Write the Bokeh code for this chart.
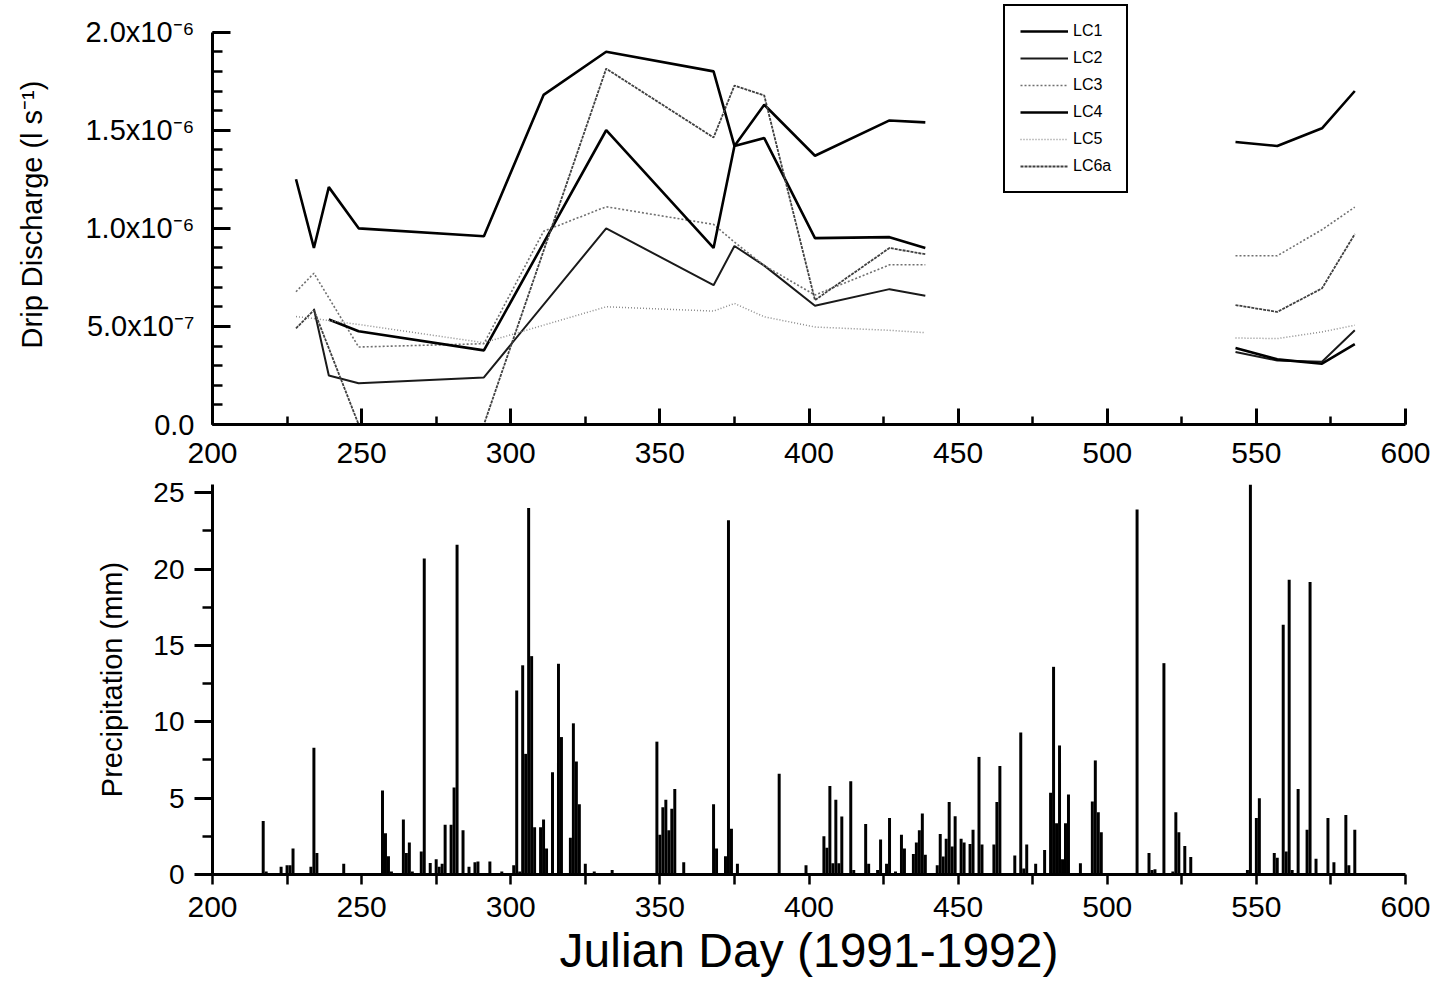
from bokeh.plotting import figure
from bokeh.layouts import column
from bokeh.models import SingleIntervalTicker, Range1d, Legend, LegendItem
from bokeh.embed import file_html
from bokeh.resources import INLINE

nan = float("nan")

# ---------------- Drip discharge (l s^-1), NaN marks the data gap ----------------
lc1_days = [228, 234, 239, 249, 291, 311, 332, 368, 375, 385, 402, 427, 439, nan, 543, 557, 572, 583]
lc1_vals = [1.25e-6, 0.90e-6, 1.21e-6, 1.00e-6, 0.96e-6, 1.68e-6, 1.90e-6, 1.80e-6, 1.42e-6, 1.63e-6,
            1.37e-6, 1.55e-6, 1.54e-6, nan, 1.44e-6, 1.42e-6, 1.51e-6, 1.70e-6]

lc2_days = [234, 239, 249, 291, 332, 368, 375, 385, 402, 427, 439, nan, 543, 557, 572, 583]
lc2_vals = [0.59e-6, 0.25e-6, 0.21e-6, 0.24e-6, 1.00e-6, 0.71e-6, 0.91e-6, 0.81e-6, 0.605e-6, 0.69e-6,
            0.656e-6, nan, 0.37e-6, 0.326e-6, 0.32e-6, 0.48e-6]

lc3_days = [228, 234, 249, 291, 311, 332, 368, 375, 385, 402, 427, 439, nan, 543, 557, 572, 583]
lc3_vals = [0.677e-6, 0.771e-6, 0.395e-6, 0.412e-6, 0.985e-6, 1.11e-6, 1.02e-6, 0.93e-6, 0.81e-6, 0.66e-6,
            0.814e-6, 0.814e-6, nan, 0.86e-6, 0.86e-6, 0.993e-6, 1.108e-6]

lc4_days = [239, 249, 291, 332, 368, 375, 385, 402, 427, 439, nan, 543, 557, 572, 583]
lc4_vals = [0.535e-6, 0.475e-6, 0.378e-6, 1.50e-6, 0.90e-6, 1.42e-6, 1.46e-6, 0.95e-6, 0.955e-6, 0.90e-6,
            nan, 0.39e-6, 0.332e-6, 0.31e-6, 0.41e-6]

lc5_days = [228, 234, 249, 291, 332, 368, 375, 385, 402, 427, 439, nan, 543, 557, 572, 583]
lc5_vals = [0.55e-6, 0.54e-6, 0.51e-6, 0.417e-6, 0.60e-6, 0.578e-6, 0.617e-6, 0.549e-6, 0.497e-6, 0.48e-6,
            0.468e-6, nan, 0.441e-6, 0.438e-6, 0.472e-6, 0.506e-6]

lc6a_days = [228, 234, 249, 291, 332, 368, 375, 385, 402, 427, 439, nan, 543, 557, 572, 583]
lc6a_vals = [0.49e-6, 0.583e-6, 0.0, 0.0, 1.814e-6, 1.463e-6, 1.728e-6, 1.677e-6, 0.634e-6, 0.90e-6,
             0.868e-6, nan, 0.609e-6, 0.574e-6, 0.694e-6, 0.971e-6]

series_names = ["LC1", "LC2", "LC3", "LC4", "LC5", "LC6a"]

drip_ticks = [0.0, 5e-7, 1e-6, 1.5e-6, 2e-6]
drip_tick_labels = ["0.0", "5.0x10\u207b\u2077", "1.0x10\u207b\u2076", "1.5x10\u207b\u2076", "2.0x10\u207b\u2076"]

# ---------------- Daily precipitation (mm) ----------------
precip_days = [217, 218, 223, 225, 226, 227, 233, 234, 235, 237, 244,
               257, 258, 259, 260, 264, 265, 266, 267, 270, 271, 273, 275, 276, 277, 278, 280, 281, 282,
               284, 286, 288, 289, 293, 297, 301, 302, 303, 304, 305, 306, 307, 308, 310, 311, 312, 314,
               316, 317, 320, 321, 322, 323, 325, 328, 332, 334,
               349, 350, 351, 352, 353, 354, 355, 358, 368, 369, 372, 373, 374, 376, 390, 399,
               405, 406, 407, 408, 409, 410, 411, 414, 415, 419, 420, 423, 424, 426, 427, 429, 431, 432,
               435, 436, 437, 438, 439, 443, 444, 445, 446, 447, 448, 449, 451, 452, 454, 455, 457, 458,
               462, 463, 464, 469, 471, 472, 473, 476, 479, 481, 482, 483, 484, 485, 486, 487, 491,
               495, 496, 497, 498, 510, 514, 515, 516, 519, 522, 523, 524, 526, 528,
               547, 548, 550, 551, 556, 557, 559, 560, 561, 562, 564, 567, 568, 570, 574, 576, 580, 581, 583]
precip_mm = [3.5, 0.2, 0.5, 0.6, 0.6, 1.7, 0.5, 8.3, 1.4, 0.1, 0.7,
             5.5, 2.7, 1.2, 0.2, 3.6, 1.4, 2.1, 0.2, 1.5, 20.7, 0.75, 1.0, 0.5, 0.7, 3.25, 3.25, 5.7, 21.6,
             2.9, 0.5, 0.8, 0.85, 0.85, 0.2, 0.6, 12.05, 0.2, 13.7, 7.9, 24.0, 14.3, 3.1, 3.1, 3.6, 1.7, 6.7,
             13.8, 9.0, 2.4, 9.9, 7.4, 4.6, 0.7, 0.2, 0.1, 0.3,
             8.7, 2.6, 4.4, 4.9, 2.9, 4.3, 5.6, 0.8, 4.6, 1.7, 1.2, 23.2, 3.0, 0.7, 6.6, 0.6,
             2.5, 1.75, 5.8, 0.74, 4.9, 0.74, 3.8, 6.1, 0.3, 3.3, 0.7, 0.3, 2.3, 0.7, 3.7, 0.2, 2.6, 1.7,
             1.35, 2.1, 2.9, 4.0, 1.3, 0.6, 2.66, 1.18, 2.34, 4.74, 1.83, 3.82, 2.34, 2.1, 2.0, 2.93, 7.7, 1.96,
             1.96, 4.74, 7.1, 1.24, 9.3, 0.4, 1.96, 0.7, 1.6, 5.35, 13.6, 3.36, 8.45, 1.0, 3.36, 5.24, 0.74,
             4.78, 7.47, 4.08, 2.77, 23.9, 1.4, 0.3, 0.35, 13.84, 0.2, 4.08, 2.77, 1.86, 1.14,
             0.3, 26.0, 3.7, 5.0, 1.4, 1.1, 16.35, 1.5, 19.3, 0.3, 5.6, 2.93, 19.15, 1.03, 3.7, 0.8, 3.9, 0.6, 2.93]

FONT = "Liberation Sans"

# ---------------- Top figure: drip discharge ----------------
p1 = figure(frame_width=1193, frame_height=420, min_border_left=212, min_border_right=32,
            min_border_top=4, min_border_bottom=52,
            x_range=Range1d(200, 600), y_range=Range1d(0, 2.141e-6),
            output_backend="svg", toolbar_location=None)

r1 = p1.line(lc1_days, lc1_vals, line_color="black", line_width=2.6)
r2 = p1.line(lc2_days, lc2_vals, line_color="#1a1a1a", line_width=2.0)
r3 = p1.line(lc3_days, lc3_vals, line_color="#707070", line_width=1.6, line_dash="2 2")
r4 = p1.line(lc4_days, lc4_vals, line_color="black", line_width=2.6)
r5 = p1.line(lc5_days, lc5_vals, line_color="#8c8c8c", line_width=1.5, line_dash="1 2")
r6 = p1.line(lc6a_days, lc6a_vals, line_color="#404040", line_width=1.8, line_dash="3 1")

legend = Legend(items=[LegendItem(label=n, renderers=[r]) for n, r in zip(series_names, [r1, r2, r3, r4, r5, r6])],
                location=(791, 231))
legend.border_line_color = "black"
legend.border_line_alpha = 1.0
legend.border_line_width = 2.5
legend.background_fill_color = "white"
legend.background_fill_alpha = 1.0
legend.label_text_font = FONT
legend.label_text_font_size = "16px"
legend.label_text_color = "black"
legend.glyph_width = 48
legend.glyph_height = 20
legend.label_height = 20
legend.spacing = 7
legend.padding = 15
legend.margin = 0
legend.label_standoff = 5
p1.add_layout(legend)

# ---------------- Bottom figure: precipitation ----------------
p2 = figure(frame_width=1193, frame_height=390, min_border_left=212, min_border_right=32,
            min_border_top=8, min_border_bottom=20,
            x_range=Range1d(200, 600), y_range=Range1d(0, 25.54),
            output_backend="svg", toolbar_location=None)
p2.vbar(x=precip_days, top=precip_mm, width=1.0, bottom=0, fill_color="black", line_color=None)

for p in (p1, p2):
    p.outline_line_color = None
    p.xgrid.visible = False
    p.ygrid.visible = False
    p.background_fill_color = "white"
    p.border_fill_color = "white"
    for ax in (p.xaxis[0], p.yaxis[0]):
        ax.axis_line_width = 3
        ax.axis_line_color = "black"
        ax.major_tick_line_width = 3
        ax.minor_tick_line_width = 2.5
        ax.major_label_text_font = FONT
        ax.axis_label_text_font = FONT
        ax.axis_label_text_font_style = "normal"
        ax.major_label_text_color = "black"
        ax.axis_label_text_color = "black"
    p.xaxis[0].ticker = SingleIntervalTicker(interval=50, num_minor_ticks=2)
    p.xaxis[0].major_label_text_font_size = "30px"

# top axes
ax = p1.xaxis[0]
ax.major_tick_in = 16
ax.major_tick_out = 0
ax.minor_tick_in = 8
ax.minor_tick_out = 0
ax.major_label_standoff = 18

ay = p1.yaxis[0]
ay.bounds = (0, 2e-6)
ay.ticker = SingleIntervalTicker(interval=5e-7, num_minor_ticks=5)
ay.major_label_overrides = dict(zip(drip_ticks, drip_tick_labels))
ay.major_tick_in = 18
ay.major_tick_out = 0
ay.minor_tick_in = 10
ay.minor_tick_out = 0
ay.major_label_standoff = 18
ay.major_label_text_font_size = "29px"
ay.axis_label = "Drip Discharge (l s\u207b\u00b9)"
ay.axis_label_text_font_size = "29px"
ay.axis_label_standoff = 34

# bottom axes
bx = p2.xaxis[0]
bx.major_tick_in = 0
bx.major_tick_out = 0
bx.minor_tick_in = 0
bx.minor_tick_out = 10
bx.major_label_standoff = 12
bx.axis_label = "Julian Day (1991-1992)"
bx.axis_label_text_font_size = "48px"
bx.axis_label_standoff = 4

by = p2.yaxis[0]
by.ticker = SingleIntervalTicker(interval=5, num_minor_ticks=2)
by.major_tick_in = 0
by.major_tick_out = 18
by.minor_tick_in = 0
by.minor_tick_out = 10
by.major_label_standoff = 10
by.major_label_text_font_size = "28px"
by.axis_label = "Precipitation (mm)"
by.axis_label_text_font_size = "29px"
by.axis_label_standoff = 22

layout = column(p1, p2, spacing=0)
open("out.html", "w").write(file_html(layout, INLINE))
